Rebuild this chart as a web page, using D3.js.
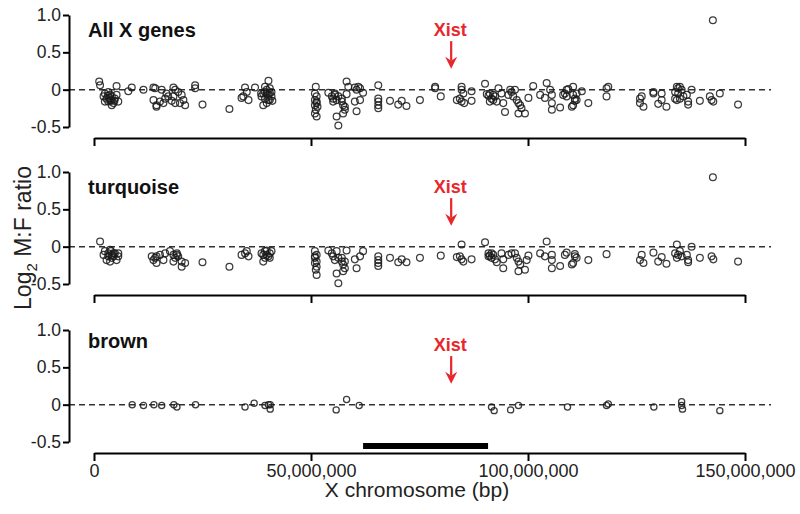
<!DOCTYPE html>
<html>
<head>
<meta charset="utf-8">
<script src="https://cdn.jsdelivr.net/npm/d3@7"></script>
<style>
  body { margin: 0; background: #fff; }
  svg { display: block; font-family: "Liberation Sans", Arial, sans-serif; }
</style>
</head>
<body>
<svg id="chart" width="800" height="514"></svg>
<script>
// Log2 male:female expression ratio along the X chromosome, three gene sets
// positions in Mb, values are log2 M:F

const allGenes = [
  [1.2,0.11],[1.4,0.06],[5.2,0.05],[2.5,-0.05],[3.3,-0.03],[3.7,-0.07],[2.9,-0.12],[4.1,-0.09],
  [4.8,-0.12],[3.3,-0.16],[4.5,-0.18],[5.6,-0.16],[4.1,-0.21],[2.5,-0.16],[3.7,-0.14],[5.2,-0.07],
  [2.2,-0.09],[3.5,-0.11],[3.9,-0.15],[4.7,-0.15],[3.2,-0.08],
  [7.9,-0.02],[8.7,0.03],[11.4,0],[13.7,0.03],[14.1,0.02],[15.6,0],[16.7,-0.05],[18.3,0.03],
  [18.7,0],[19.4,-0.03],[17.1,-0.09],[16.4,-0.12],[13.7,-0.14],[14.4,-0.21],[15.2,-0.16],[16.0,-0.18],
  [17.9,-0.15],[18.3,-0.09],[20.2,-0.07],[20.6,-0.14],[21.0,-0.21],[19.8,-0.18],[18.7,-0.18],[14.4,-0.23],
  [23.3,0.06],[23.3,0.02],[25.0,-0.2],[31.2,-0.26],
  [34.8,0.03],[35.2,-0.03],[34.4,-0.09],[35.6,-0.14],[34.0,-0.11],[37.1,0.03],
  [40.2,0.12],[39.4,0.04],[40.5,0.02],[39.8,0],[39.0,-0.05],[40.2,-0.07],[39.4,-0.12],[40.5,-0.14],
  [38.6,-0.09],[40.9,-0.03],[39.8,-0.18],[39.0,-0.21],[38.5,-0.05],[40.9,-0.09],[39.8,-0.05],[40.5,-0.04],
  [39.4,-0.03],[40.2,-0.14],[41.1,-0.15],
  [51.1,0.04],[50.9,-0.05],[51.3,-0.09],[50.9,-0.14],[51.3,-0.18],[50.9,-0.21],[51.5,-0.23],[51.1,-0.27],
  [50.9,-0.32],[51.3,-0.36],[51.3,-0.16],
  [54.0,-0.04],[54.8,-0.09],[55.1,-0.12],[55.5,-0.07],[55.9,-0.14],[56.3,-0.09],[55.1,-0.16],[55.5,-0.05],
  [55.9,-0.36],[56.3,-0.48],[57.1,-0.16],[57.4,-0.21],[57.8,-0.27],[57.4,-0.32],[57.8,-0.23],[57.1,-0.12],
  [58.2,0.11],[58.2,-0.06],[58.6,0.04],[60.1,0.03],[60.5,0],[60.9,0.04],[61.3,0.02],[62.0,-0.04],
  [60.1,-0.16],[61.3,-0.14],[60.5,-0.29],
  [65.5,0.06],[65.5,-0.12],[65.5,-0.16],[65.5,-0.21],[65.5,-0.25],[68.2,-0.15],[70.1,-0.2],[70.9,-0.15],
  [72.0,-0.22],[75.1,-0.14],[78.6,0.04],[78.6,0.02],[79.9,-0.09],
  [84.7,0.04],[84.7,0],[85.1,-0.05],[84.3,-0.12],[84.7,-0.16],[85.3,-0.18],[83.6,-0.14],[87.0,-0.02],[87.0,-0.15],
  [90.1,0.08],[90.9,-0.08],[91.2,-0.05],[91.6,-0.12],[92.0,-0.14],[92.4,-0.09],[92.8,-0.16],[93.2,0.02],
  [93.9,-0.05],[94.3,-0.18],[94.7,-0.3],[95.5,-0.07],[95.9,0],[96.2,-0.03],[96.6,-0.09],[97.0,0],
  [97.4,-0.14],[97.8,-0.18],[98.2,-0.21],[98.5,-0.25],[97.8,-0.32],[99.3,-0.32],[100.1,-0.11],[101.2,0.05],
  [91.2,-0.16],[92.0,-0.07],[90.5,-0.06],
  [102.8,-0.07],[103.9,-0.11],[104.3,0.09],[105.1,0],[105.5,-0.07],[105.5,-0.18],[105.5,-0.27],[107.4,-0.24],
  [108.1,-0.07],[108.5,-0.05],[108.9,-0.09],[109.3,0.01],[108.9,0],[110.4,0.04],[110.4,-0.07],[110.8,-0.12],
  [110.8,-0.15],[110.4,-0.21],[110.1,-0.23],[111.2,-0.14],[112.4,-0.02],[111.2,-0.05],[113.9,-0.18],
  [118.1,0.02],[118.5,0.04],[118.1,-0.09],
  [125.8,-0.12],[126.2,-0.09],[125.8,-0.18],[126.6,-0.23],[128.9,-0.05],[128.9,-0.03],[130.0,-0.19],
  [130.8,-0.05],[130.8,-0.14],[131.9,-0.23],
  [134.3,0.04],[134.6,0.02],[135.0,0.04],[133.9,-0.03],[134.6,-0.05],[135.4,0],[133.9,-0.12],[134.3,-0.14],
  [135.0,-0.12],[135.8,-0.09],[136.6,-0.07],[136.9,-0.16],[136.9,-0.2],[137.7,0],[139.6,-0.15],
  [141.9,-0.09],[142.3,-0.14],[142.7,-0.16],[144.2,-0.05],[148.4,-0.2],[142.6,0.93]
];

const turquoise = [
  [1.4,0.07],[2.5,-0.06],[3.3,-0.09],[3.7,-0.04],[4.1,-0.11],[4.5,-0.13],[4.8,-0.09],[5.6,-0.13],
  [5.2,-0.18],[3.7,-0.2],[2.9,-0.18],[4.1,-0.15],[3.3,-0.13],[5.6,-0.09],[2.2,-0.11],[4.5,-0.09],[3.9,-0.06],
  [13.3,-0.13],[14.1,-0.15],[13.7,-0.18],[14.4,-0.22],[14.4,-0.13],[15.2,-0.11],[16.0,-0.18],[16.4,-0.09],
  [17.5,-0.06],[18.3,-0.11],[18.7,-0.15],[18.3,-0.2],[19.1,-0.09],[19.4,-0.13],[20.2,-0.2],[21.0,-0.22],
  [20.2,-0.27],[19.1,-0.11],[25.0,-0.21],[31.2,-0.27],
  [34.0,-0.11],[34.8,-0.09],[35.6,-0.13],[35.2,-0.06],
  [38.6,-0.09],[39.4,-0.06],[39.8,-0.11],[40.2,-0.13],[39.0,-0.2],[40.5,-0.09],[40.9,-0.06],[39.4,-0.15],
  [40.5,-0.15],[39.8,-0.05],[39.0,-0.11],
  [50.9,-0.06],[51.3,-0.11],[50.9,-0.15],[51.3,-0.2],[50.9,-0.22],[51.3,-0.27],[51.1,-0.31],[51.3,-0.38],[50.9,-0.13],
  [54.0,-0.05],[54.8,-0.09],[55.1,-0.13],[55.5,-0.18],[55.9,-0.06],[56.3,-0.15],[55.9,-0.36],[56.3,-0.49],
  [57.1,-0.2],[57.4,-0.24],[57.8,-0.29],[57.4,-0.33],[57.1,-0.15],[57.8,-0.2],[58.2,-0.05],
  [60.1,-0.17],[60.5,-0.29],[61.3,-0.13],[62.0,-0.06],
  [65.5,-0.13],[65.5,-0.18],[65.5,-0.22],[65.5,-0.26],[68.2,-0.15],[70.1,-0.21],[70.9,-0.17],[72.0,-0.21],
  [75.1,-0.15],[79.9,-0.12],
  [84.7,0.03],[84.3,-0.13],[84.7,-0.17],[85.1,-0.2],[83.6,-0.14],[87.0,-0.17],
  [90.1,0.06],[90.9,-0.09],[91.2,-0.12],[91.6,-0.15],[92.0,-0.11],[92.4,-0.17],[92.8,-0.21],[93.9,-0.09],
  [94.3,-0.17],[94.3,-0.29],[95.5,-0.11],[96.2,-0.09],[97.0,-0.09],[97.4,-0.15],[97.8,-0.2],[98.2,-0.24],
  [97.8,-0.33],[99.3,-0.31],[99.7,-0.18],[91.6,-0.09],[90.9,-0.13],
  [100.1,-0.12],[102.8,-0.09],[103.9,-0.13],[104.3,0.07],[105.5,-0.11],[105.5,-0.18],[105.5,-0.29],
  [107.4,-0.26],[108.5,-0.11],[108.9,-0.08],[110.8,-0.13],[111.2,-0.15],[110.4,-0.22],[110.1,-0.24],
  [110.8,-0.1],[113.9,-0.18],[118.1,-0.1],
  [126.2,-0.11],[125.8,-0.18],[126.6,-0.22],[128.9,-0.08],[130.0,-0.2],[130.8,-0.14],[131.9,-0.23],
  [134.3,0.03],[133.9,-0.09],[134.6,-0.11],[135.0,-0.06],[134.3,-0.15],[135.4,-0.13],[136.6,-0.11],
  [136.9,-0.18],[136.9,-0.21],[137.7,0],[139.6,-0.15],[142.3,-0.13],[142.7,-0.17],[148.4,-0.2],[142.6,0.93]
];

const brown = [
  [8.8,0],[11.4,-0.01],[13.8,0],[15.6,-0.01],[18.4,0],[19.1,-0.03],[23.4,0],[34.8,-0.03],
  [36.9,0.02],[39.4,-0.01],[40.2,0],[40.6,0],[40.6,-0.06],[55.8,-0.07],[58.2,0.07],[61.1,-0.01],
  [91.6,-0.03],[92.2,-0.08],[96.0,-0.07],[97.8,-0.01],[109.1,-0.03],[118.1,-0.01],[118.5,0.01],
  [129.0,-0.03],[135.4,0.04],[135.4,-0.01],[135.6,-0.06],[144.2,-0.08]
];

const panelNames = ['All X genes', 'turquoise', 'brown'];
const panelData = [allGenes, turquoise, brown];
const panelTops = [15, 172, 330];

const xTicks = [0, 50, 100, 150];           // Mb
const yTicks = [-0.5, 0, 0.5, 1];
const yTickLabels = ['-0.5', '0', '0.5', '1.0'];

const xistPos = 82.3;                        // Mb
const regionBar = [62, 90.8];                // Mb, black bar under bottom panel

const svg = d3.select('#chart');
const RED = '#e8262b';

const x = d3.scaleLinear().domain([0, 150]).range([94, 745]);
const AXIS_X = 69;

panelData.forEach((data, i) => {
  const top = panelTops[i];
  const y = d3.scaleLinear().domain([-0.5, 1]).range([top + 112, top]);
  const g = svg.append('g');

  // zero reference line
  g.append('line')
    .attr('x1', AXIS_X).attr('x2', x(156))
    .attr('y1', y(0)).attr('y2', y(0))
    .attr('stroke', '#333').attr('stroke-width', 1.5)
    .attr('stroke-dasharray', '6,4');

  // y axis
  const yAxis = d3.axisLeft(y)
    .tickValues(yTicks)
    .tickFormat((d, k) => yTickLabels[k])
    .tickSize(6).tickSizeOuter(0).tickPadding(2);
  const yg = g.append('g').attr('transform', `translate(${AXIS_X},0)`).call(yAxis);
  yg.select('.domain').attr('stroke', '#000').attr('stroke-width', 2);
  yg.selectAll('.tick line').attr('stroke', '#000').attr('stroke-width', 2);
  yg.selectAll('.tick text').attr('font-size', 17.5).attr('fill', '#222')
    .attr('font-family', '"Liberation Sans", Arial, sans-serif');

  // x axis (labels only on bottom panel)
  const last = i === panelData.length - 1;
  const xAxis = d3.axisBottom(x)
    .tickValues(xTicks)
    .tickFormat(last ? d => d3.format(',')(d * 1e6) : '')
    .tickSize(8).tickSizeOuter(0).tickPadding(3);
  const xg = g.append('g').attr('transform', `translate(0,${top + 123})`).call(xAxis);
  xg.select('.domain').attr('stroke', '#000').attr('stroke-width', 2);
  xg.selectAll('.tick line').attr('stroke', '#000').attr('stroke-width', 2);
  xg.selectAll('.tick text').attr('font-size', 18).attr('fill', '#222')
    .attr('font-family', '"Liberation Sans", Arial, sans-serif');

  // panel label
  g.append('text')
    .attr('x', 88).attr('y', top + (last ? 18 : 22))
    .attr('font-size', 20).attr('font-weight', 'bold').attr('fill', '#111')
    .text(panelNames[i]);

  // Xist marker
  const xx = x(xistPos);
  g.append('text')
    .attr('x', xx - 1).attr('y', y(0.72))
    .attr('text-anchor', 'middle')
    .attr('font-size', 18).attr('font-weight', 'bold').attr('fill', RED)
    .text('Xist');
  const tip = y(0.28);
  g.append('line')
    .attr('x1', xx).attr('x2', xx)
    .attr('y1', y(0.65)).attr('y2', tip - 8)
    .attr('stroke', RED).attr('stroke-width', 2.2);
  g.append('path')
    .attr('d', `M${xx - 6},${tip - 12} L${xx},${tip} L${xx + 6},${tip - 12} L${xx},${tip - 8} Z`)
    .attr('fill', RED);

  // points
  g.selectAll('circle')
    .data(data)
    .join('circle')
    .attr('cx', d => x(d[0]))
    .attr('cy', d => y(d[1]))
    .attr('r', last ? 3.1 : 3.4)
    .attr('fill', 'none')
    .attr('stroke', '#1a1a1a')
    .attr('stroke-width', 1.25)
    .attr('stroke-opacity', 0.85);

  if (last) {
    g.append('rect')
      .attr('x', x(regionBar[0]))
      .attr('y', y(-0.5) + 1)
      .attr('width', x(regionBar[1]) - x(regionBar[0]))
      .attr('height', 6)
      .attr('fill', '#000');
  }
});

// axis titles
svg.append('text')
  .attr('x', 417).attr('y', 497)
  .attr('text-anchor', 'middle')
  .attr('font-size', 21).attr('fill', '#222')
  .text('X chromosome (bp)');

const yTitle = svg.append('text')
  .attr('transform', 'translate(31,238) rotate(-90)')
  .attr('text-anchor', 'middle')
  .attr('font-size', 23).attr('fill', '#222');
yTitle.append('tspan').text('Log');
yTitle.append('tspan').attr('font-size', 15).attr('dy', 6).text('2');
yTitle.append('tspan').attr('dy', -6).text(' M:F ratio');
</script>
</body>
</html>
